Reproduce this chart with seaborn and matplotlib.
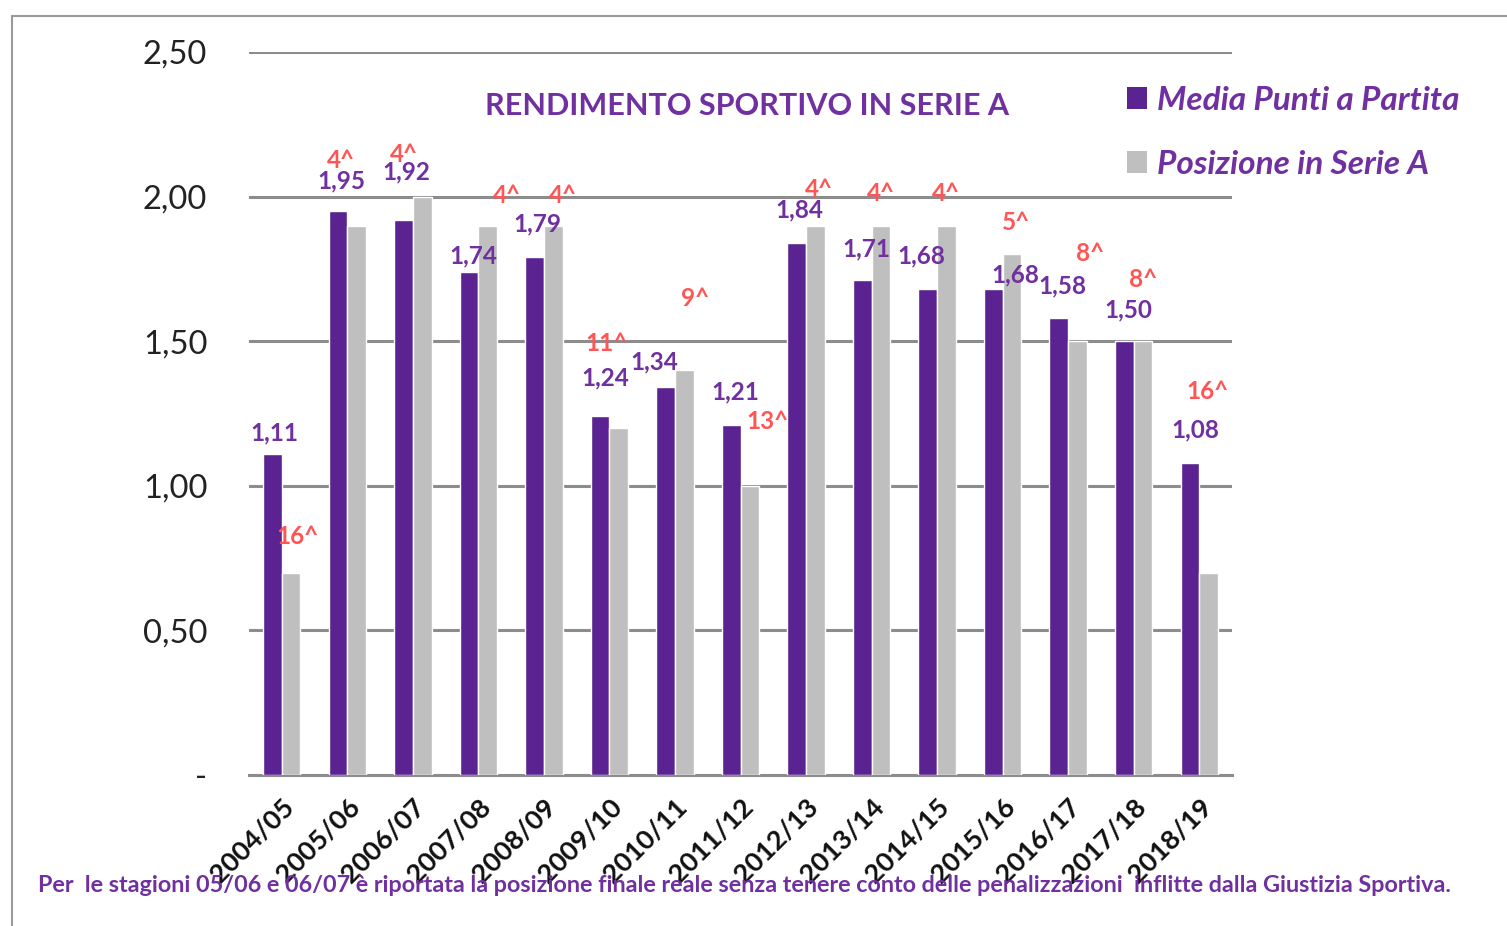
import numpy as np
import pandas as pd
import matplotlib
matplotlib.use("Agg")
import matplotlib.pyplot as plt
import seaborn as sns
from matplotlib.patches import Patch
from matplotlib.lines import Line2D

# ---------------- data ----------------
seasons = ["2004/05", "2005/06", "2006/07", "2007/08", "2008/09", "2009/10", "2010/11",
           "2011/12", "2012/13", "2013/14", "2014/15", "2015/16", "2016/17", "2017/18", "2018/19"]
media_punti = [1.11, 1.95, 1.92, 1.74, 1.79, 1.24, 1.34, 1.21, 1.84, 1.71, 1.68, 1.68, 1.58, 1.50, 1.08]
posizione_bar = [0.70, 1.90, 2.00, 1.90, 1.90, 1.20, 1.40, 1.00, 1.90, 1.90, 1.90, 1.80, 1.50, 1.50, 0.70]
posizione = [16, 4, 4, 4, 4, 11, 9, 13, 4, 4, 4, 5, 8, 8, 16]
series_names = ["Media Punti a Partita", "Posizione in Serie A"]
y_ticks = [0, 0.5, 1.0, 1.5, 2.0, 2.5]
y_tick_labels = ["-", "0,50", "1,00", "1,50", "2,00", "2,50"]
title = "RENDIMENTO SPORTIVO IN SERIE A"
footnote = ("Per  le stagioni 05/06 e 06/07 è riportata la posizione finale reale senza tenere "
            "conto delle penalizzazioni  inflitte dalla Giustizia Sportiva.")

# label offsets in pixels (dx, dy) relative to bar top
purple_off = [(2, 21), (3, 30), (3, 48), (4, 16), (3, 33), (5, 38), (-11, 26), (4, 33),
              (3, 33), (4, 32), (-6, 33), (22, 14), (4, 32), (4, 31), (5, 33)]
red_off = [(6, 36), (-16, 65), (-18, 42), (19, 30), (10, 30), (-12, 84), (11, 72), (18, 64),
           (4, 36), (0, 32), (0, 32), (4, 32), (13, 88), (0, 62), (-1, 181)]

# ---------------- style ----------------
PURPLE_BAR = "#5B2391"
GRAY_BAR = "#BFBFBF"
PURPLE_TXT = "#7030A0"
RED_TXT = "#FF5555"
GRID = "#8C8C8C"

sns.set_theme(style="white")
plt.rcParams["font.family"] = ["Lato", "DejaVu Sans"]

df = pd.DataFrame({
    "season": seasons * 2,
    "serie": [series_names[0]] * len(seasons) + [series_names[1]] * len(seasons),
    "value": media_punti + posizione_bar,
})

fig = plt.figure(figsize=(15.07, 9.26), dpi=100)
ax = fig.add_axes([249 / 1507, 1 - 775 / 926, (1232 - 249) / 1507, (775 - 52) / 926])

sns.barplot(data=df, x="season", y="value", hue="serie", order=seasons,
            hue_order=series_names, palette=[PURPLE_BAR, GRAY_BAR],
            width=0.57, gap=0, saturation=1, legend=False, ax=ax, zorder=3)

ax.set_ylim(0, 2.5)
ax.set_xlim(-0.5, len(seasons) - 0.5)
for y in y_ticks[1:]:
    ax.axhline(y, color=GRID, lw=2.2, zorder=1)
ax.set_yticks(y_ticks)
ax.set_yticklabels(y_tick_labels, fontsize=23.5, color="#222222")
ax.tick_params(axis="y", length=0, pad=30)

ax.set_xticks(range(len(seasons)))
ax.set_xticklabels(seasons, rotation=45, ha="right", rotation_mode="anchor",
                   fontsize=19.5, fontweight="bold", color="#111111")
ax.tick_params(axis="x", which="major", length=0, pad=14)
ax.set_xticks(np.arange(-0.5, len(seasons)), minor=True)
ax.tick_params(axis="x", which="minor", length=10, width=2, color=GRID, direction="out")
ax.set_xlabel("")
ax.set_ylabel("")
for s in ["top", "right", "left"]:
    ax.spines[s].set_visible(False)
ax.spines["bottom"].set_color(GRID)
ax.spines["bottom"].set_linewidth(2.2)

px = 0.72  # pixels -> points
purple_bars = ax.containers[0]
gray_bars = ax.containers[1]
for i, b in enumerate(purple_bars):
    cx = b.get_x() + b.get_width() / 2
    dx, dy = purple_off[i]
    ax.annotate(f"{media_punti[i]:.2f}".replace(".", ","), xy=(cx, b.get_height()),
                xytext=(dx * px, dy * px), textcoords="offset points",
                ha="center", va="center", fontsize=17.5, fontweight="bold",
                color=PURPLE_TXT, zorder=5)
for i, b in enumerate(gray_bars):
    cx = b.get_x() + b.get_width() / 2
    dx, dy = red_off[i]
    ax.annotate(f"{posizione[i]}^", xy=(cx, b.get_height()),
                xytext=(dx * px, dy * px), textcoords="offset points",
                ha="center", va="center", fontsize=17.5, fontweight="bold",
                color=RED_TXT, zorder=5)

fig.text(747 / 1507, 1 - 106 / 926, title, ha="center", va="center",
         fontsize=22, fontweight="bold", color=PURPLE_TXT)

handles = [Patch(facecolor=PURPLE_BAR, edgecolor="none"), Patch(facecolor=GRAY_BAR, edgecolor="none")]
leg = fig.legend(handles, series_names, loc="upper left",
                 bbox_to_anchor=(1110 / 1507, 1 - 69 / 926), frameon=False,
                 handlelength=0.6, handleheight=0.6, handletextpad=0.3,
                 labelspacing=1.05, borderpad=0,
                 prop={"size": 24, "weight": "bold", "style": "italic"})
for t in leg.get_texts():
    t.set_color(PURPLE_TXT)

fig.text(38 / 1507, 1 - 885 / 926, footnote, ha="left", va="center",
         fontsize=16.8, fontweight="bold", color=PURPLE_TXT)

# outer frame (top and left edges)
fig.add_artist(Line2D([12 / 1507, 1.0], [1 - 16 / 926, 1 - 16 / 926], transform=fig.transFigure,
                      color="#9A9A9A", lw=1.5))
fig.add_artist(Line2D([12 / 1507, 12 / 1507], [0, 1 - 16 / 926], transform=fig.transFigure,
                      color="#9A9A9A", lw=1.5))

fig.savefig("out.png", dpi=100, facecolor="white")
